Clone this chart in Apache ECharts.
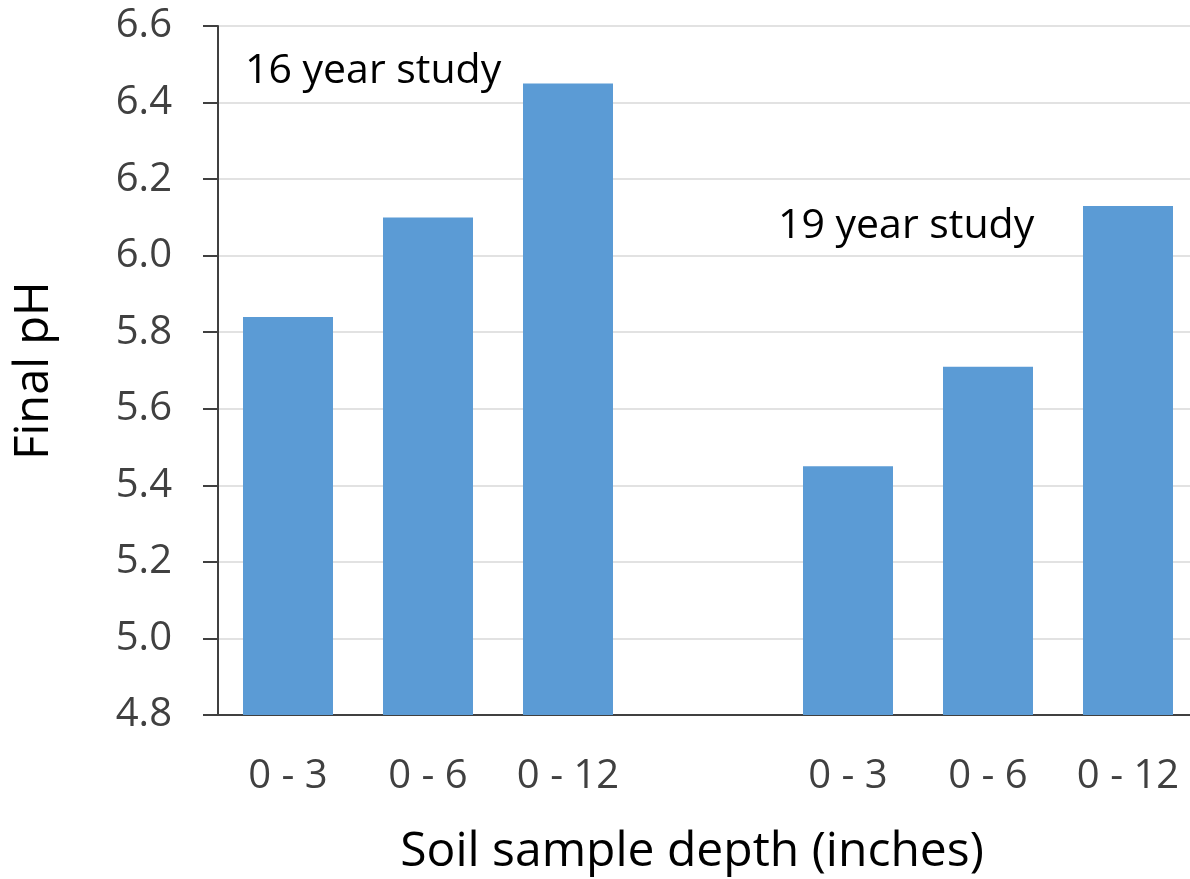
<!DOCTYPE html>
<html>
<head>
<meta charset="utf-8">
<script src="https://cdn.jsdelivr.net/npm/echarts@6/dist/echarts.min.js"></script>
<style>html,body{margin:0;padding:0;background:#fff;}#c{width:1190px;height:879px;}</style>
</head>
<body>
<div id="c"></div>
<script>
const categories = ['0 - 3', '0 - 6', '0 - 12', '', '0 - 3', '0 - 6', '0 - 12'];
const phValues = [5.84, 6.10, 6.45, null, 5.45, 5.71, 6.13];
const yTicks = { min: 4.8, max: 6.6, interval: 0.2 };
const annotations = ['16 year study', '19 year study'];

const chart = echarts.init(document.getElementById('c'));
const font = '"Open Sans", sans-serif';
chart.setOption({
  animation: false,
  grid: { left: 218, top: 26, width: 980, height: 689, outerBoundsMode: 'none', containLabel: false },
  xAxis: {
    type: 'category',
    data: categories,
    axisLine: { lineStyle: { color: '#404040', width: 2 } },
    axisTick: { show: false },
    axisLabel: { color: '#404040', fontSize: 40, fontFamily: font, margin: 42, interval: 0 },
    name: 'Soil sample depth (inches)',
    nameLocation: 'middle',
    nameGap: 113,
    nameTextStyle: { color: '#000', fontSize: 48, fontFamily: font, padding: [0, 32, 0, 0] }
  },
  yAxis: {
    type: 'value',
    min: yTicks.min, max: yTicks.max, interval: yTicks.interval,
    axisLine: { show: true, lineStyle: { color: '#404040', width: 2 } },
    axisTick: { show: true, inside: false, length: 15, lineStyle: { color: '#404040', width: 2 } },
    splitLine: { lineStyle: { color: '#d9d9d9', width: 1.5 } },
    axisLabel: { color: '#404040', fontSize: 40, fontFamily: font, margin: 46, formatter: v => v.toFixed(1) },
    name: 'Final pH',
    nameLocation: 'middle',
    nameGap: 160,
    nameTextStyle: { color: '#000', fontSize: 47, fontFamily: font }
  },
  series: [{
    type: 'bar',
    data: phValues,
    barWidth: 90,
    itemStyle: { color: '#5b9bd5' }
  }],
  graphic: [
    { type: 'text', left: 245, top: 51, style: { text: annotations[0], fontSize: 41, fontFamily: font, fill: '#000' } },
    { type: 'text', left: 778, top: 206, style: { text: annotations[1], fontSize: 41, fontFamily: font, fill: '#000' } }
  ]
});
</script>
</body>
</html>
